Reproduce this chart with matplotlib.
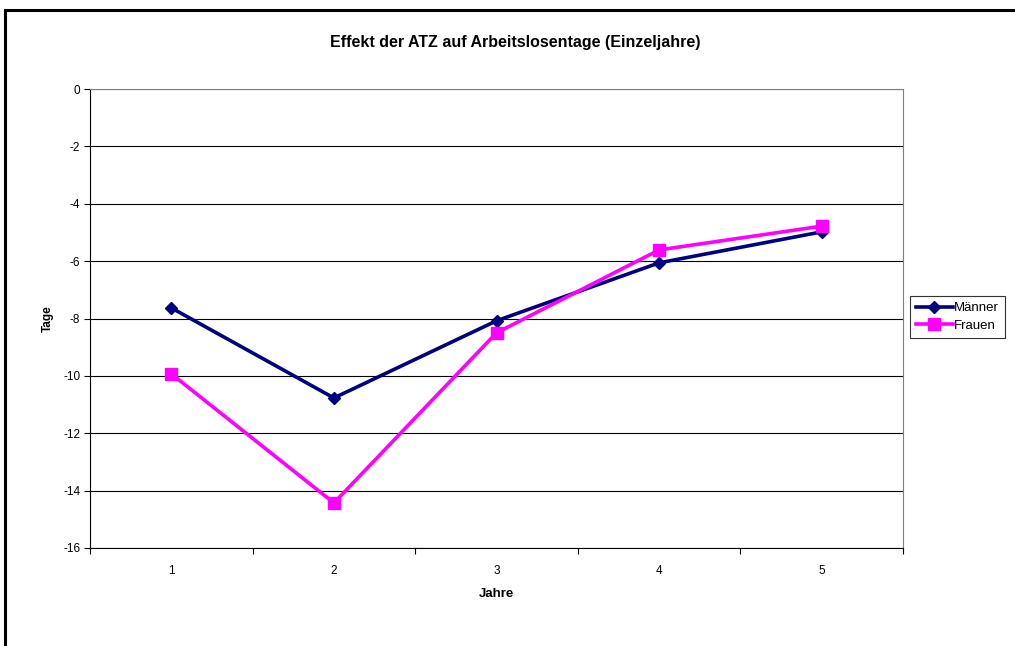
import matplotlib
matplotlib.use("Agg")
import matplotlib.pyplot as plt
from matplotlib.patches import Rectangle

plt.rcParams['font.family'] = ['Liberation Sans', 'DejaVu Sans']

jahre = [1, 2, 3, 4, 5]
maenner = [-7.63, -10.77, -8.08, -6.06, -4.98]
frauen = [-9.93, -14.43, -8.50, -5.61, -4.78]
y_ticks = [0, -2, -4, -6, -8, -10, -12, -14, -16]

fig = plt.figure(figsize=(10.15, 6.46), dpi=100)

# outer chart border (runs off the right and bottom)
fig.patches.append(Rectangle((5/1015, -0.1), 1.2, (646-10)/646 + 0.1, transform=fig.transFigure,
                             fill=False, edgecolor='black', linewidth=2.2))

ax = fig.add_axes([90/1015, 98/646, 813/1015, 459/646])

ax.plot(jahre, maenner, color='#000080', lw=2.6, marker='D', ms=6.5, label='Männer')
ax.plot(jahre, frauen, color='#FF00FF', lw=2.6, marker='s', ms=8, label='Frauen')

ax.set_xlim(0.5, 5.5)
ax.set_ylim(-16, 0)
ax.set_yticks(y_ticks)
ax.set_yticklabels([str(v) for v in y_ticks], fontsize=8.5)
ax.set_xticks(jahre)
ax.set_xticklabels([str(v) for v in jahre], fontsize=8.5)
ax.set_xticks([0.5 + i for i in range(6)], minor=True)
ax.tick_params(axis='x', which='major', length=0, pad=12)
ax.tick_params(axis='x', which='minor', length=4, width=0.8, direction='out')
ax.tick_params(axis='y', length=4, width=0.8, direction='out', pad=3)

ax.yaxis.grid(True, color='black', lw=0.8)
ax.set_axisbelow(True)
for side in ['top', 'right']:
    ax.spines[side].set_color('#808080')
    ax.spines[side].set_linewidth(0.8)
for side in ['left', 'bottom']:
    ax.spines[side].set_color('black')
    ax.spines[side].set_linewidth(0.8)

ax.set_xlabel('Jahre', fontsize=9.5, fontweight='bold', labelpad=8)
ax.set_ylabel('Tage', fontsize=8.5, fontweight='bold', labelpad=7)
fig.text(515/1015, 1 - 42/646, 'Effekt der ATZ auf Arbeitslosentage (Einzeljahre)',
         ha='center', va='center', fontsize=11.5, fontweight='bold')

leg = ax.legend(loc='center left', bbox_to_anchor=(910/1015, 1 - 317/646),
                bbox_transform=fig.transFigure, fontsize=9.5, frameon=True, fancybox=False,
                borderpad=0.45, labelspacing=0.4, handlelength=2.8, handletextpad=0.1,
                borderaxespad=0)
leg.get_frame().set_edgecolor('black')
leg.get_frame().set_linewidth(0.8)

fig.savefig('out.png', dpi=100)
